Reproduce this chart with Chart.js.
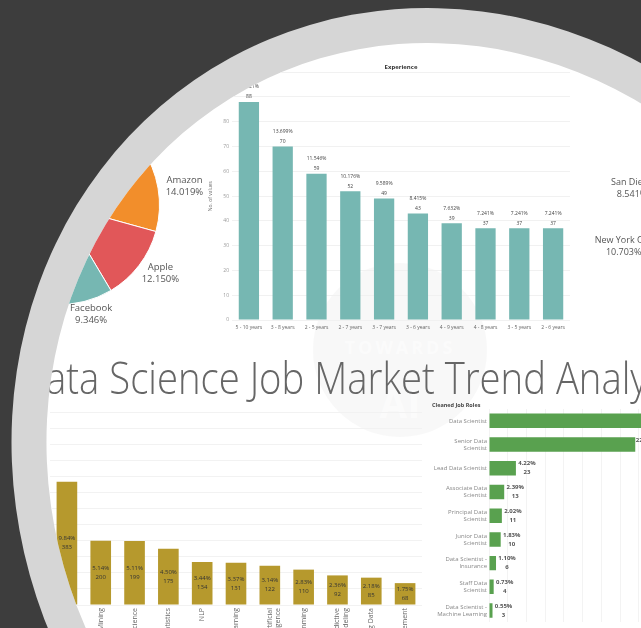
<!DOCTYPE html>
<html lang="en">
<head>
<meta charset="UTF-8">
<title>Data Science Job Market Trend Analysis</title>
<script src="https://cdn.jsdelivr.net/npm/chart.js"></script>
<style>
  html, body {
    margin: 0;
    padding: 0;
    width: 641px;
    height: 628px;
    overflow: hidden;
    background: #3d3d3d;
    font-family: 'Open Sans', sans-serif;
  }
  /* tilted ellipse: grey ring, white board clipped to the inner edge */
  #ring {
    position: absolute;
    left: 20px;
    top: 0;
    width: 874px;
    height: 946px;
    border-radius: 50%;
    background: #d6d6d6;
    transform: rotate(-28.6deg);
  }
  #board {
    position: absolute;
    left: 0;
    top: 0;
    width: 641px;
    height: 628px;
    background: #fff;
    overflow: hidden;
    clip-path: path('M 809.96 280.56 A 402 438 -28.6 1 1 104.04 665.44 A 402 438 -28.6 1 1 809.96 280.56 Z');
  }
  #board canvas { position: absolute; }
  #mark {
    position: absolute;
    left: 313px;
    top: 263px;
    width: 174px;
    height: 174px;
    border-radius: 50%;
    background: rgba(205, 205, 205, 0.15);
  }
  #mark span {
    position: absolute;
    width: 100%;
    text-align: center;
    color: rgba(255, 255, 255, 0.5);
    font-weight: bold;
  }
  #title {
    position: absolute;
    left: 19px;
    top: 354px;
    font-size: 45px;
    line-height: 45px;
    font-weight: 300;
    color: #666;
    white-space: nowrap;
    transform: scaleX(0.85);
    transform-origin: left top;
  }
</style>
</head>
<body>
<div id="ring"></div>
<div id="board">
  <div id="mark">
    <span style="top:72px; font-size:18px; letter-spacing:3px;">TOWARDS</span>
    <span style="top:112px; font-size:40px;">AI</span>
  </div>
  <canvas id="companyPie" width="300" height="300" style="left:-90px; top:55px;"></canvas>
  <canvas id="cityPie" width="300" height="300" style="left:590px; top:68px;"></canvas>
  <canvas id="expChart" width="372" height="280" style="left:208px; top:60px;"></canvas>
  <canvas id="skillChart" width="372" height="300" style="left:50px; top:400px;"></canvas>
  <canvas id="roleChart" width="408" height="230" style="left:432px; top:398px;"></canvas>
  <div id="title">Data Science Job Market Trend Analysis</div>
</div>

<script>
  // companies pie (only part of it is visible)
  const companyNames = ['Amazon', 'Apple', 'Facebook', 'Others'];
  const companyCounts = [15, 13, 10, 69];
  const companyColors = ['#f28e2b', '#e15759', '#76b7b2', '#bab0ac'];

  // cities pie (sits off the right edge)
  const cityNames = ['New York City', 'San Diego', 'Others'];
  const cityCounts = [99, 79, 747];
  const cityColors = ['#4e79a7', '#edc948', '#bab0ac'];

  // experience bars
  const expLabels = ['5 - 10 years', '3 - 8 years', '2 - 5 years', '2 - 7 years', '3 - 7 years',
                     '3 - 6 years', '4 - 9 years', '4 - 8 years', '3 - 5 years', '2 - 6 years'];
  const expCounts = [88, 70, 59, 52, 49, 43, 39, 37, 37, 37];

  // skills bars
  const skillLabels = ['Machine Learning', 'Data Mining', 'Computer Science', 'Statistics', 'NLP',
                       'Deep Learning', ['Artificial', 'Intelligence'], 'Programming',
                       ['Predictive', 'Modeling'], 'Big Data', 'Data Management'];
  const skillCounts = [383, 200, 199, 175, 134, 131, 122, 110, 92, 85, 68];
  const skillTotal = 3891;

  // cleaned job roles
  const roleLabels = ['Data Scientist', ['Senior Data', 'Scientist'], 'Lead Data Scientist',
                      ['Associate Data', 'Scientist'], ['Principal Data', 'Scientist'],
                      ['Junior Data', 'Scientist'], ['Data Scientist -', 'Insurance'],
                      ['Staff Data', 'Scientist'], ['Data Scientist -', 'Machine Learning']];
  const roleCounts = [290, 125, 23, 13, 11, 10, 6, 4, 3];
  const roleTotal = 545;

  Chart.defaults.font.family = "'Open Sans', sans-serif";
  Chart.defaults.animation = false;
  Chart.defaults.plugins.legend.display = false;
  Chart.defaults.plugins.tooltip.enabled = false;

  // name + percent outside each slice
  const pieText = {
    id: 'pieText',
    afterDatasetsDraw(chart, args, opts) {
      const ctx = chart.ctx;
      const data = chart.data.datasets[0].data;
      const total = data.reduce((a, b) => a + b, 0);
      ctx.save();
      ctx.font = opts.size + 'px "Open Sans"';
      ctx.fillStyle = '#555';
      ctx.textAlign = 'center';
      ctx.textBaseline = 'middle';
      chart.getDatasetMeta(0).data.forEach((arc, i) => {
        const mid = (arc.startAngle + arc.endAngle) / 2;
        const dx = Math.cos(mid), dy = Math.sin(mid);
        const name = chart.data.labels[i];
        const pct = (data[i] / total * 100).toFixed(3) + '%';
        const w = Math.max(ctx.measureText(name).width, ctx.measureText(pct).width);
        const r = arc.outerRadius + 8;
        const x = arc.x + dx * (r + w / 2);
        const y = arc.y + dy * (r + 5);
        ctx.fillText(name, x, y - 6);
        ctx.fillText(pct, x, y + 6);
      });
      ctx.restore();
    }
  };

  function makePie(id, names, counts, colors, rotation, pad, size) {
    new Chart(document.getElementById(id), {
      type: 'pie',
      data: {
        labels: names,
        datasets: [{ data: counts, backgroundColor: colors, borderColor: '#fff', borderWidth: 1 }]
      },
      options: {
        responsive: false,
        rotation: rotation,
        layout: { padding: pad },
        plugins: { pieText: { size: size } }
      },
      plugins: [pieText]
    });
  }

  makePie('companyPie', companyNames, companyCounts, companyColors, 55, 50, 9.5);
  makePie('cityPie', cityNames, cityCounts, cityColors, 234, 65, 9);

  // experience chart
  const expTotal = expCounts.reduce((a, b) => a + b, 0);
  new Chart(document.getElementById('expChart'), {
    type: 'bar',
    data: {
      labels: expLabels,
      datasets: [{ data: expCounts, backgroundColor: '#76b7b2', barPercentage: 0.6, categoryPercentage: 1 }]
    },
    options: {
      responsive: false,
      layout: { padding: { right: 10 } },
      plugins: {
        title: {
          display: true, text: 'Experience', fullSize: false, color: '#333',
          font: { size: 6, weight: 'bold' }, padding: { top: 4, bottom: 1 }
        }
      },
      scales: {
        x: {
          grid: { display: false, drawTicks: false }, border: { display: false },
          ticks: { font: { size: 5 }, color: '#666', padding: 5, autoSkip: false, maxRotation: 0 },
          afterFit: s => { s.height = 20; }
        },
        y: {
          min: 0, max: 100,
          grid: { color: '#f1f1f1', drawTicks: false }, border: { display: false },
          ticks: { stepSize: 10, font: { size: 5 }, color: '#999', padding: 3 },
          title: { display: true, text: 'No. of values', font: { size: 5 }, color: '#777', padding: 0 },
          afterFit: s => { s.width = 24; }
        }
      }
    },
    plugins: [{
      id: 'expText',
      afterDatasetsDraw(chart) {
        const ctx = chart.ctx;
        ctx.save();
        ctx.font = '5px "Open Sans"';
        ctx.fillStyle = '#444';
        ctx.textAlign = 'center';
        ctx.textBaseline = 'middle';
        chart.getDatasetMeta(0).data.forEach((bar, i) => {
          ctx.fillText((expCounts[i] / expTotal * 100).toFixed(3) + '%', bar.x, bar.y - 15);
          ctx.fillText(String(expCounts[i]), bar.x, bar.y - 5);
        });
        ctx.restore();
      }
    }]
  });

  // skills chart
  new Chart(document.getElementById('skillChart'), {
    type: 'bar',
    data: {
      labels: skillLabels,
      datasets: [{ data: skillCounts, backgroundColor: '#b6992d', barPercentage: 0.61, categoryPercentage: 1 }]
    },
    options: {
      responsive: false,
      layout: { padding: { top: 12 } },
      scales: {
        x: {
          grid: { display: false, drawTicks: false }, border: { display: false },
          ticks: { font: { size: 7 }, color: '#666', padding: 3, autoSkip: false, minRotation: 90, maxRotation: 90 },
          afterFit: s => { s.height = 95; }
        },
        y: {
          min: 0, max: 600,
          grid: { color: '#f2f2f2', drawTicks: false }, border: { display: false },
          ticks: { stepSize: 50, display: false },
          afterFit: s => { s.width = 0; }
        }
      }
    },
    plugins: [{
      id: 'skillText',
      afterDatasetsDraw(chart) {
        const ctx = chart.ctx;
        ctx.save();
        ctx.font = '6px "Open Sans"';
        ctx.fillStyle = '#333';
        ctx.textAlign = 'center';
        ctx.textBaseline = 'middle';
        chart.getDatasetMeta(0).data.forEach((bar, i) => {
          const mid = (bar.y + bar.base) / 2;
          ctx.fillText((skillCounts[i] / skillTotal * 100).toFixed(2) + '%', bar.x, mid - 4.5);
          ctx.fillText(String(skillCounts[i]), bar.x, mid + 4.5);
        });
        ctx.restore();
      }
    }]
  });

  // job roles chart
  new Chart(document.getElementById('roleChart'), {
    type: 'bar',
    data: {
      labels: roleLabels,
      datasets: [{ data: roleCounts, backgroundColor: '#59a14f', barPercentage: 0.61, categoryPercentage: 1 }]
    },
    options: {
      responsive: false,
      indexAxis: 'y',
      plugins: {
        title: {
          display: true, text: 'Cleaned Job Roles', align: 'start', color: '#444',
          font: { size: 5.5, weight: 'bold' }, padding: { top: 4.4, bottom: 0 }
        }
      },
      scales: {
        x: {
          min: 0, max: 300,
          grid: { color: '#f3f3f3', drawTicks: false }, border: { display: false },
          ticks: { stepSize: 16, display: false },
          afterFit: s => { s.height = 3; }
        },
        y: {
          grid: { display: false, drawTicks: false }, border: { display: false },
          ticks: { font: { size: 6 }, color: '#888', padding: 2, autoSkip: false },
          afterFit: s => { s.width = 57; }
        }
      }
    },
    plugins: [{
      id: 'roleText',
      afterDatasetsDraw(chart) {
        const ctx = chart.ctx;
        ctx.save();
        ctx.font = 'bold 6px "Open Sans"';
        ctx.fillStyle = '#555';
        ctx.textAlign = 'center';
        ctx.textBaseline = 'middle';
        chart.getDatasetMeta(0).data.forEach((bar, i) => {
          ctx.fillText((roleCounts[i] / roleTotal * 100).toFixed(2) + '%', bar.x + 11, bar.y - 4.5);
          ctx.fillText(String(roleCounts[i]), bar.x + 11, bar.y + 4.5);
        });
        ctx.restore();
      }
    }]
  });
</script>
</body>
</html>
